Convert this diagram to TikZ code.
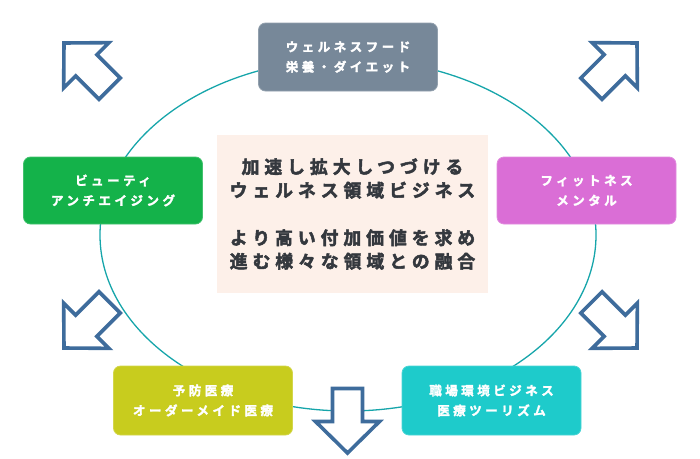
\documentclass[tikz,border=0pt]{standalone}
\usepackage{fontspec}
\setmainfont{Noto Sans CJK JP}
\newfontfamily\boxjp{Noto Sans CJK JP Bold}[LetterSpace=28, FakeBold=2.2]
\newfontfamily\corejp{Noto Sans CJK JP Bold}[LetterSpace=28, FakeBold=2.6]
\usepackage{xcolor}
\usetikzlibrary{positioning}

\definecolor{foodcol}{RGB}{119,136,153}
\definecolor{beautycol}{RGB}{20,178,74}
\definecolor{fitcol}{RGB}{218,110,214}
\definecolor{carecol}{RGB}{200,204,30}
\definecolor{workcol}{RGB}{30,203,203}
\definecolor{corefill}{RGB}{253,240,233}
\definecolor{coretext}{RGB}{52,56,62}
\definecolor{ringcol}{RGB}{22,165,170}
\definecolor{arrowcol}{RGB}{62,108,156}

\begin{document}
\begin{tikzpicture}[x=1pt, y=-1pt,
    area/.style={rectangle, rounded corners=7pt, fill=#1, draw=#1!80!white, line width=0.8pt,
        text=white, font=\boxjp\fontsize{12.5pt}{20pt}\selectfont, align=center,
        minimum width=179pt, minimum height=67pt, inner sep=0pt},
    core/.style={rectangle, fill=corefill, text=coretext, align=center,
        font=\corejp\fontsize{17.8pt}{23.5pt}\selectfont,
        minimum width=271pt, minimum height=158pt, inner sep=0pt},
    ring/.style={draw=ringcol, line width=1.3pt},
    blockarrow/.pic={\draw[draw=arrowcol, fill=white, line width=3.6pt, line join=miter]
        (0,0) -- (32,31.5) -- (15,31.5) -- (15,64.5) -- (-15,64.5)
        -- (-15,31.5) -- (-32,31.5) -- cycle;}]

    \useasboundingbox (0,0) rectangle (700,458);

    \draw[ring] (348,235) ellipse [x radius=248, y radius=176];

    \node[core] (core) at (352.5,214) {加速し拡大しつづける\\ウェルネス領域ビジネス\\[24pt]より高い付加価値を求め\\進む様々な領域との融合};

    \node[area=foodcol, minimum height=68pt] (food) at (348,57) {ウェルネスフード\\栄養・ダイエット};
    \node[area=beautycol] (beauty) at (113,190.5) {ビューティ\\アンチエイジング};
    \node[area=fitcol] (fitness) at (586.5,190.5) {フィットネス\\メンタル};
    \node[area=carecol, minimum height=69pt] (care) at (203,400.5) {予防医療\\オーダーメイド医療};
    \node[area=workcol, minimum height=69pt] (work) at (491.5,400.5) {職場環境ビジネス\\医療ツーリズム};

    \pic (upleft) [rotate=45] at (64,43) {blockarrow};
    \pic (upright) [rotate=-45] at (637,43) {blockarrow};
    \pic (downleft) [rotate=135] at (64,348) {blockarrow};
    \pic (downright) [rotate=-135] at (637,348) {blockarrow};
    \pic (down) [rotate=180] at (347.5,453) {blockarrow};

\end{tikzpicture}
\end{document}
